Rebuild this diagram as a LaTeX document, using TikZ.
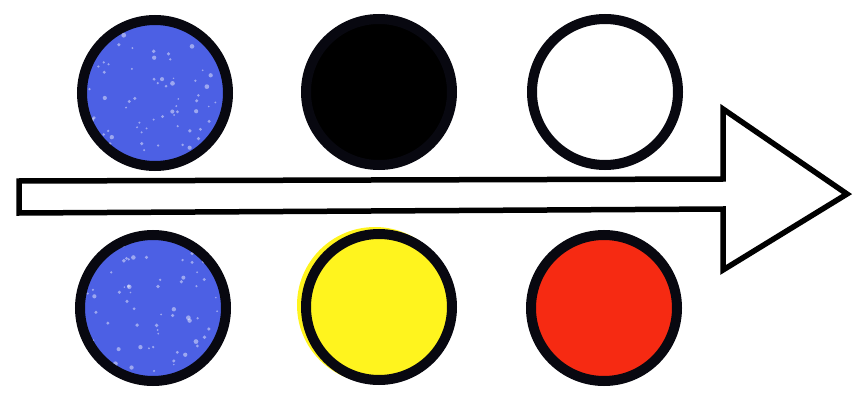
\documentclass[tikz,border=0pt]{standalone}
\usepackage{tikz}
\usetikzlibrary{calc}
\definecolor{dotblue}{RGB}{76,96,228}
\definecolor{dotrim}{RGB}{8,8,16}
\definecolor{dotyellow}{RGB}{255,244,30}
\definecolor{dotred}{RGB}{246,42,18}
\tikzset{
  dotcirc/.style={circle,draw=dotrim,line width=10pt,minimum size=146pt,inner sep=0pt},
  halocirc/.style={circle,inner sep=0pt,minimum size=156pt},
  arrowline/.style={draw=black,line width=5.5pt,line join=miter,fill=white},
  speck/.style={fill=white,opacity=0.45},
}
\newcommand{\ldot}[4]{\node[dotcirc,fill=#4] (#1) at (#2,#3) {};}
% light flecks on a blue dot
\newcommand{\lspeck}[1]{%
  \begin{scope}
    \clip (#1.center) circle (68pt);
    \foreach \i in {1,...,70}{%
      \pgfmathsetmacro{\dx}{rand*66}
      \pgfmathsetmacro{\dy}{rand*66}
      \pgfmathsetmacro{\rr}{0.8+1.6*rnd}
      \fill[speck] ($(#1.center)+(\dx,\dy)$) circle (\rr pt);}
  \end{scope}%
}

\begin{document}
\begin{tikzpicture}[x=1pt,y=-1pt]
        \pgfmathsetseed{11}
        \useasboundingbox (0,0) rectangle (855,396);
        \fill[white] (0,0) rectangle (855,396);
        % halos behind the lower dots
        \node[halocirc,fill=dotyellow] (yhalo) at (375,305) {};
        \node[halocirc,fill=dotred!60,minimum size=152pt] (rhalo) at (603,309) {};
        % top row
        \ldot{b1}{155}{93}{dotblue}
        \ldot{k1}{379}{92}{black}
        \ldot{w1}{605}{92}{white}
        % bottom row
        \ldot{b2}{153}{308}{dotblue}
        \ldot{y2}{379}{307}{dotyellow}
        \ldot{r2}{604}{308}{dotred}
        \lspeck{b1}\lspeck{b2}
        % the arrow
        \draw[arrowline] (19,181) -- (723,179) -- (723,109) -- (847,194)
          -- (723,270) -- (723,209) -- (19,213) -- cycle;
      \end{tikzpicture}
\end{document}
